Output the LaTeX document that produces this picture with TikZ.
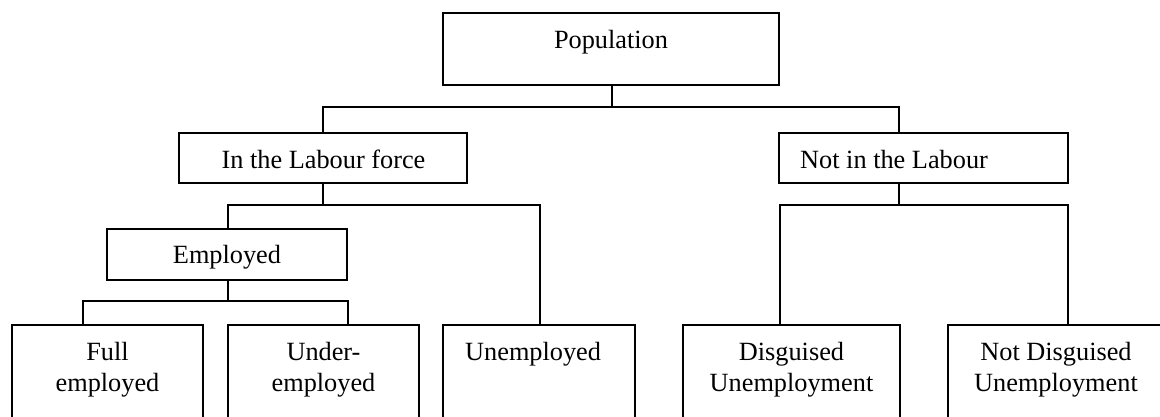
\documentclass[tikz,border=0pt]{standalone}
\usepackage{fontspec}
\setmainfont{Liberation Serif}
\begin{document}
\begin{tikzpicture}[x=1pt,y=-1pt,
  boxst/.style={draw=black,line width=1.8pt,rectangle,inner sep=0pt},
  conn/.style={draw=black,line width=1.8pt},
  lbl/.style={inner sep=0pt,font=\fontsize{26.3}{31}\selectfont,align=center,anchor=base}]
\useasboundingbox (0,0) rectangle (1160,416);
\clip (0,0) rectangle (1160,416);
% boxes
\node[boxst,minimum width=336pt,minimum height=72pt] (pop) at (611,49) {};
\node[boxst,minimum width=288pt,minimum height=50pt] (labf) at (323,158) {};
\node[boxst,minimum width=289pt,minimum height=50pt] (notl) at (923.5,158) {};
\node[boxst,minimum width=240pt,minimum height=51pt] (emp) at (227,254.5) {};
\node[boxst,minimum width=191pt,minimum height=110pt] (full) at (107.5,380) {};
\node[boxst,minimum width=191pt,minimum height=110pt] (under) at (323.5,380) {};
\node[boxst,minimum width=192pt,minimum height=110pt] (unemp) at (539,380) {};
\node[boxst,minimum width=217pt,minimum height=110pt] (disg) at (791.5,380) {};
\node[boxst,minimum width=227pt,minimum height=110pt] (notd) at (1061.5,380) {};
% texts
\node[lbl] (tpop) at (611,48) {Population};
\node[lbl] (tlabf) at (323.5,168) {In the Labour force};
\node[lbl,anchor=base west] (tnotl) at (800,168) {Not in the Labour};
\node[lbl] (temp) at (227,263) {Employed};
\node[lbl] (tfull) at (107.5,391) {Full\\employed};
\node[lbl] (tunder) at (323.5,391) {Under-\\employed};
\node[lbl,anchor=base west] (tunemp) at (465,360) {Unemployed};
\node[lbl] (tdisg) at (791.5,391) {Disguised\\Unemployment};
\node[lbl] (tnotd) at (1056,391) {Not Disguised\\Unemployment};
% junction coordinates
\coordinate (j1) at (612,107);
\coordinate (nlin) at (899,133);
\coordinate (nlout) at (899,183);
\coordinate (j2) at (323,205);
\coordinate (j3) at (899,205);
\coordinate (dgin) at (780,325);
\coordinate (ndin) at (1068,325);
\coordinate (j4) at (228,301);
\coordinate (flin) at (83,325);
\coordinate (udin) at (348,325);
\coordinate (eout) at (228,280);
\coordinate (ein) at (228,229);
\coordinate (uein) at (540,325);
% connectors
\draw[conn] (pop.south -| j1) -- (j1);
\draw[conn] (labf.north) |- (j1) -| (nlin);
\draw[conn] (labf.south) -- (j2);
\draw[conn] (ein) |- (j2) -| (uein);
\draw[conn] (nlout) -- (j3);
\draw[conn] (dgin) |- (j3) -| (ndin);
\draw[conn] (eout) -- (j4);
\draw[conn] (flin) |- (j4) -| (udin);
\end{tikzpicture}
\end{document}
